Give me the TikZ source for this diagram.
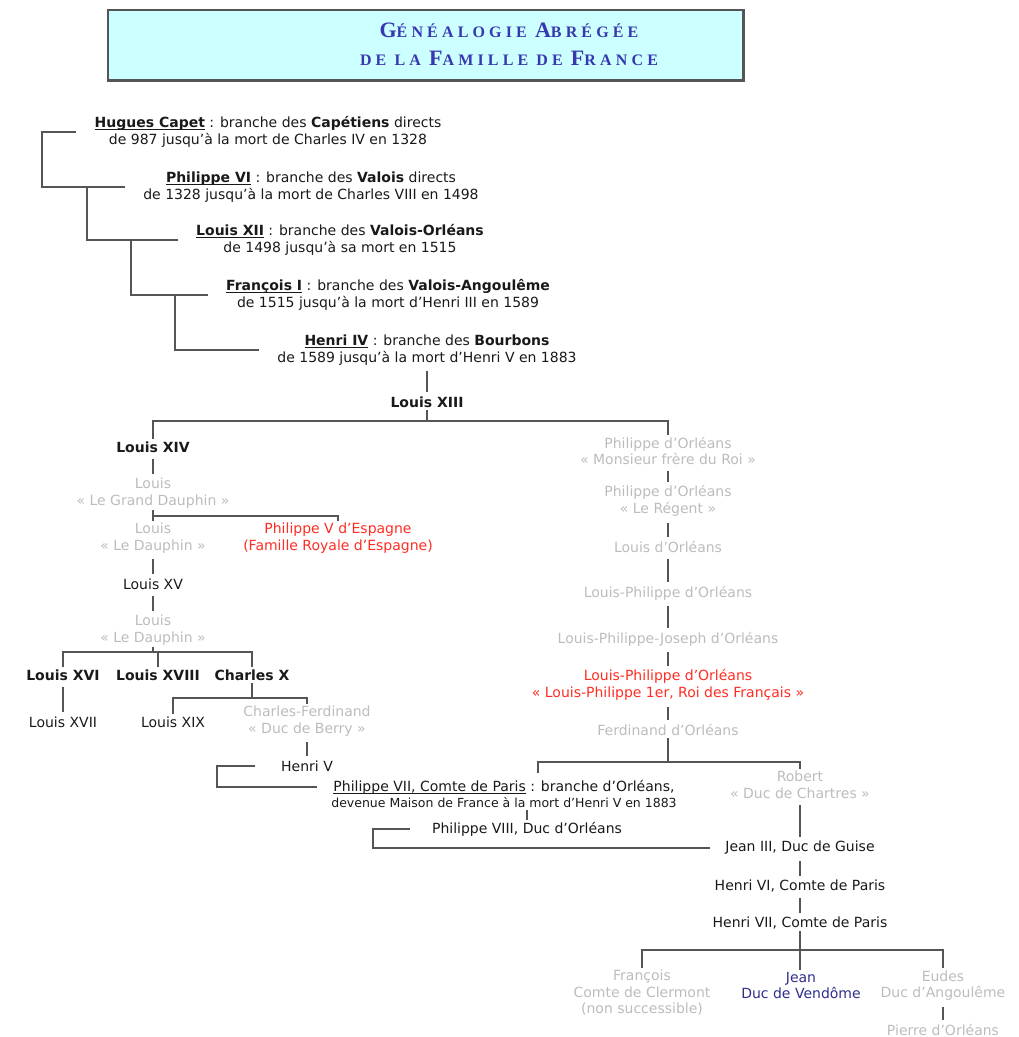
\documentclass[tikz,border=0pt]{standalone}
\usepackage{fontspec}
\setmainfont{DejaVu Sans}
\newfontfamily\titlefont[LetterSpace=26]{Liberation Serif}

\definecolor{ink}{RGB}{25,25,25}
\definecolor{faded}{RGB}{188,188,188}
\definecolor{royalred}{RGB}{255,45,35}
\definecolor{heirblue}{RGB}{45,45,140}
\definecolor{titleblue}{RGB}{55,55,175}
\definecolor{linkgray}{RGB}{85,85,85}
\definecolor{bannerfill}{RGB}{204,255,255}

\newcommand\titlecap[1]{{\fontsize{22pt}{28pt}\selectfont #1}}
\newcommand\uname[1]{\underline{\smash{#1}}}

\tikzset{
    person/.style={font=\fontsize{14pt}{16.5pt}\selectfont, text=ink, align=center, inner sep=2pt},
    king/.style={person, font=\fontsize{14pt}{16.5pt}\selectfont\bfseries},
    faded/.style={person, text=faded},
    crown/.style={person, text=royalred},
    heir/.style={person, text=heirblue},
    link/.style={draw=linkgray, line width=1.9pt},
    descent/.style={link, shorten <=4pt, shorten >=2pt},
    banner box/.style={draw=linkgray, fill=bannerfill, line width=1.2pt, minimum width=635pt, minimum height=70pt, inner sep=0pt},
    titletext/.style={font=\titlefont\bfseries\fontsize{16pt}{28pt}\selectfont, text=titleblue, align=center},
}

\begin{document}
\begin{tikzpicture}[x=1pt, y=-1pt]
        \useasboundingbox (0,0) rectangle (1019,1037);

        % title
        \node[banner box] (banner) at (425.5,45) {};
        \draw[link, line width=2pt] (banner.south west) -- (banner.south east) -- (banner.north east);
        \node[titletext] (title) at (509,44) {\titlecap{G}ÉNÉALOGIE \titlecap{A}BRÉGÉE\\DE LA \titlecap{F}AMILLE DE \titlecap{F}RANCE};

        % the five branches
        \node[person] (capet) at (268,132) {\uname{\textbf{Hugues Capet}} : branche des \textbf{Capétiens} directs\\de 987 jusqu'à la mort de Charles IV en 1328};
        \node[person] (valois) at (311,187) {\uname{\textbf{Philippe VI}} : branche des \textbf{Valois} directs\\de 1328 jusqu'à la mort de Charles VIII en 1498};
        \node[person] (orleans) at (340,240) {\uname{\textbf{Louis XII}} : branche des \textbf{Valois-Orléans}\\de 1498 jusqu'à sa mort en 1515};
        \node[person] (angouleme) at (388,295) {\uname{\textbf{François I}} : branche des \textbf{Valois-Angoulême}\\de 1515 jusqu'à la mort d'Henri III en 1589};
        \node[person] (bourbons) at (427,350) {\uname{\textbf{Henri IV}} : branche des \textbf{Bourbons}\\de 1589 jusqu'à la mort d'Henri V en 1883};

        \coordinate (spine1) at (42,0);
        \coordinate (spine2) at (87,0);
        \coordinate (spine3) at (131,0);
        \coordinate (spine4) at (175,0);
        \foreach \a/\b/\s in {capet/valois/spine1, valois/orleans/spine2, orleans/angouleme/spine3, angouleme/bourbons/spine4}{
                \draw[link, shorten <=16pt, shorten >=16pt] (\a.west) -- (\a.west -| \s) |- (\b.west);
            }

        % bourbons
        \node[king] (l13) at (427,402) {Louis XIII};
        \node[king] (l14) at (153,447) {Louis XIV};
        \node[faded] (gdauphin) at (153,493) {Louis\\«~Le Grand Dauphin~»};
        \node[faded] (dauphin1) at (153,538) {Louis\\«~Le Dauphin~»};
        \node[crown] (philV) at (338,538) {Philippe V d'Espagne\\(Famille Royale d'Espagne)};
        \node[person] (l15) at (153,584) {Louis XV};
        \node[faded] (dauphin2) at (153,630) {Louis\\«~Le Dauphin~»};
        \node[king] (l16) at (63,675) {Louis XVI};
        \node[king] (l18) at (158,675) {Louis XVIII};
        \node[king] (c10) at (252,675) {Charles X};
        \node[person] (l17) at (63,722) {Louis XVII};
        \node[person] (l19) at (173,722) {Louis XIX};
        \node[faded] (berry) at (307,721) {Charles-Ferdinand\\«~Duc de Berry~»};
        \node[person] (h5) at (307,766) {Henri V};

        % orleans
        \node[faded] (orl1) at (668,451) {Philippe d'Orléans\\«~Monsieur frère du Roi~»};
        \node[faded] (regent) at (668,501) {Philippe d'Orléans\\«~Le Régent~»};
        \node[faded] (lorl) at (668,547) {Louis d'Orléans};
        \node[faded] (lporl) at (668,593) {Louis-Philippe d'Orléans};
        \node[faded] (lpjorl) at (668,639) {Louis-Philippe-Joseph d'Orléans};
        \node[crown] (lp1) at (668,685) {Louis-Philippe d'Orléans\\«~Louis-Philippe 1er, Roi des Français~»};
        \node[faded] (ferd) at (668,730) {Ferdinand d'Orléans};
        \node[person] (p7) at (504,787) {\uname{Philippe VII, Comte de Paris} : branche d'Orléans,};
        \node[person, font=\fontsize{12.5pt}{15pt}\selectfont] (p7note) at (504,803) {devenue Maison de France à la mort d'Henri V en 1883};
        \node[faded] (robert) at (800,785) {Robert\\«~Duc de Chartres~»};
        \node[person] (p8) at (527,829) {Philippe VIII, Duc d'Orléans};
        \node[person] (j3) at (800,848) {Jean III, Duc de Guise};
        \node[person] (h6) at (800,886) {Henri VI, Comte de Paris};
        \node[person] (h7) at (800,923) {Henri VII, Comte de Paris};
        \node[faded] (francois) at (642,993) {François\\Comte de Clermont\\(non successible)};
        \node[heir] (jean) at (801,985.5) {Jean\\Duc de Vendôme};
        \node[faded] (eudes) at (943,985.5) {Eudes\\Duc d'Angoulême};
        \node[faded] (pierre) at (943,1030) {Pierre d'Orléans};

        % straight descents
        \foreach \a/\b in {bourbons/l13, l14/gdauphin, dauphin1/l15, l15/dauphin2, l16/l17, berry/h5,
                orl1/regent, regent/lorl, lorl/lporl, lporl/lpjorl, lpjorl/lp1, lp1/ferd,
                robert/j3, j3/h6, h6/h7, eudes/pierre}{
                \draw[descent] (\a.south) -- (\b.north);
            }

        % forks
        \coordinate (bar13) at (427,421);
        \draw[link] (l13.south) -- (bar13);
        \draw[link] (l14.north) |- (bar13) -| (orl1.north);

        \coordinate (barA) at (153,516);
        \draw[link] (gdauphin.south) -- (dauphin1.north);
        \draw[link] (barA) -| (philV.north);

        \coordinate (barB) at (153,652);
        \draw[link] (dauphin2.south) -- (barB);
        \draw[link] (l16.north) |- (barB) -| (c10.north);
        \draw[link] (l18.north |- barB) -- (l18.north);

        \coordinate (barC) at (252,698);
        \draw[link] (c10.south) -- (barC);
        \draw[link] (l19.north) |- (barC) -| (berry.north);

        \coordinate (spineH) at (217,0);
        \draw[link, shorten <=24pt, shorten >=14pt] (h5.west) -- (h5.west -| spineH) |- (p7.west);

        \coordinate (barD) at (668,762);
        \draw[link] (ferd.south) -- (barD);
        \draw[link, shorten <=5pt] ([xshift=34pt]p7.north) |- (barD) -| (robert.north);

        \draw[link] (p8.north |- p7note.south) -- (p8.north);
        \coordinate (spineP) at (373,0);
        \draw[link, shorten <=20pt, shorten >=13pt] (p8.west) -- (p8.west -| spineP) |- (j3.west);

        \coordinate (barE) at (800,950);
        \draw[link] (h7.south) -- (h7.south |- jean.north);
        \draw[link] (francois.north) |- (barE) -| (eudes.north);

    \end{tikzpicture}
\end{document}
